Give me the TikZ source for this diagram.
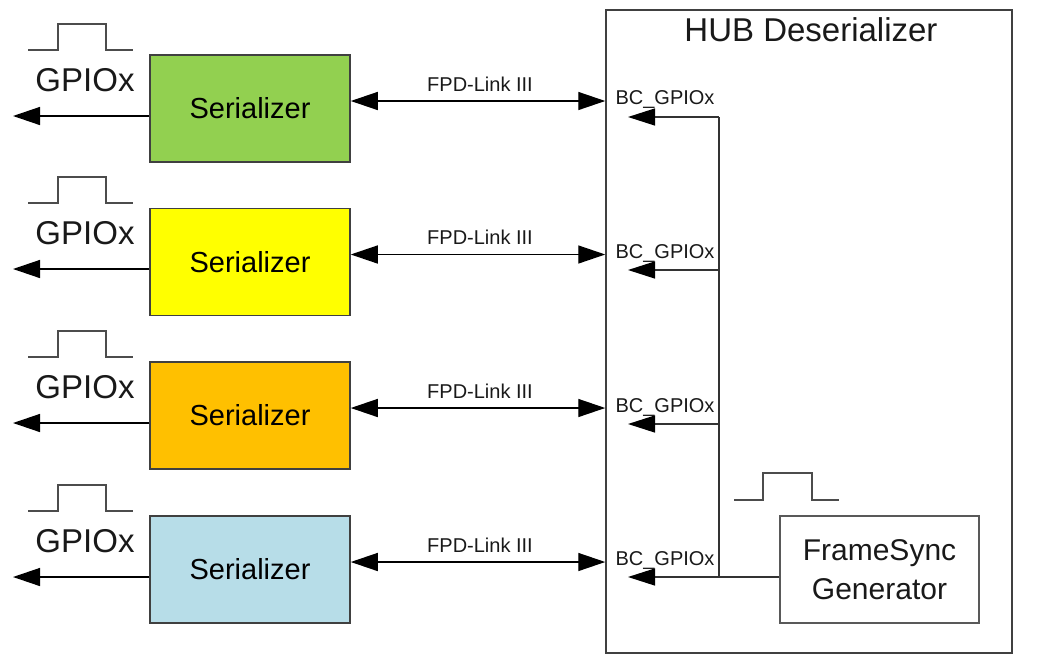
\documentclass[tikz,border=0pt]{standalone}
\usepackage{fontspec}
\setmainfont{Liberation Sans}
\usetikzlibrary{arrows.meta}
\definecolor{sgreen}{HTML}{92D050}
\definecolor{syellow}{HTML}{FFFF00}
\definecolor{sorange}{HTML}{FFC000}
\definecolor{sblue}{HTML}{B7DDE8}
\definecolor{edge}{HTML}{404040}
\tikzset{
  serbox/.style={draw=edge, line width=1.5pt, minimum width=200pt, minimum height=107pt, inner sep=0pt,
    font=\fontsize{29}{34}\selectfont, text=black},
  arr/.style={line width=1.4pt, -{Triangle[length=27pt,width=18pt]}},
  biarr/.style={line width=1.4pt, {Triangle[length=27pt,width=18pt]}-{Triangle[length=27pt,width=18pt]}},
  thin arr/.style={line width=1.3pt, draw=black!80, -{Triangle[length=27pt,width=17pt,fill=black,color=black]}},
  pulse/.style={line width=1.5pt, draw=black!70},
  gpio/.style={font=\fontsize{33}{38}\selectfont, text=black!90},
  fpd/.style={font=\fontsize{20}{24}\selectfont, text=black!90},
  bc/.style={font=\fontsize{20}{24}\selectfont, text=black!90, anchor=west},
}
\begin{document}
\begin{tikzpicture}[x=1pt,y=-1pt]
\useasboundingbox (0,0) rectangle (1038,667);
% hub
\node[draw=edge, line width=1.5pt, minimum width=406pt, minimum height=643pt, inner sep=0pt] (hub) at (809,331.5) {};
\node[font=\fontsize{33}{38}\selectfont, text=black!90] (title) at (811,30) {HUB Deserializer};
% serializers
\node[serbox, fill=sgreen] (s1) at (250,108.5) {Serializer};
\node[serbox, fill=syellow] (s2) at (250,262) {Serializer};
\node[serbox, fill=sorange] (s3) at (250,415.5) {Serializer};
\node[serbox, fill=sblue] (s4) at (250,569.5) {Serializer};
% framesync
\node[draw=black!65, line width=1.5pt, minimum width=199pt, minimum height=107pt, inner sep=0pt, align=center,
  font=\fontsize{30}{39}\selectfont, text=black!90] (fsg) at (879.5,569.5) {FrameSync\\Generator};
% GPIO labels
\foreach \i/\t in {1/55,2/208,3/362,4/516}{
  \node[gpio] (gl\i) at (85,\t+25) {GPIOx};
  \draw[pulse] (28,\t-5) -- (58,\t-5) -- (58,\t-31) -- (106,\t-31) -- (106,\t-5) -- (133,\t-5);
  \coordinate (g\i) at (13,\t+61);
  \draw[arr] (s\i.west |- g\i) -- (g\i);
  \draw[biarr] ([yshift=7.5pt]s\i.east) -- ([yshift=7.5pt]s\i.east -| hub.west);
  \node[fpd] (fl\i) at (480,\t+29) {FPD-Link III};
}
% bus inside hub
\coordinate (b1) at (719,117);
\coordinate (b2) at (719,270);
\coordinate (b3) at (719,424);
\coordinate (b4) at (719,577);
\draw[line width=1.3pt, black!80] (b1) -- (b4);
\draw[line width=1.3pt, black!80] (fsg.west |- b4) -- (b4);
\foreach \i/\y in {1/117,2/270,3/424,4/577}{
  \coordinate (a\i) at (628,\y);
  \draw[thin arr] (b\i) -- (a\i);
  \node[bc] (bl\i) at (612,\y-17) {BC\_GPIOx};
}
% pulse near framesync
\draw[pulse] (734,500) -- (763,500) -- (763,473) -- (812,473) -- (812,500) -- (839,500);
\end{tikzpicture}
\end{document}
